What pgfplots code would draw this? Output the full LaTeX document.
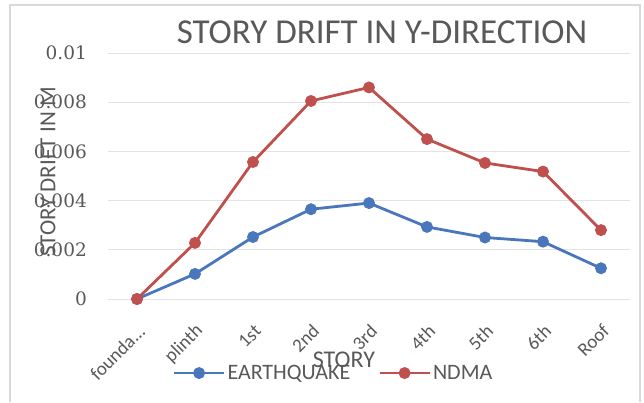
\documentclass[border=0pt]{standalone}
\usepackage{fontspec}
\setmainfont{Carlito}
\newfontfamily\tickserif{DejaVu Serif}
\usepackage{pgfplots}
\pgfplotsset{compat=1.18}

\definecolor{eqblue}{HTML}{4A76BC}
\definecolor{ndmared}{HTML}{C0504D}
\definecolor{txtgray}{HTML}{595959}
\definecolor{gridgray}{HTML}{E3E3E3}
\definecolor{framegray}{HTML}{D9D9D9}

\begin{document}
\begin{tikzpicture}[x=1pt,y=1pt]
\useasboundingbox (0,0) rectangle (644,402);
\fill[white] (0,0) rectangle (644,402);
\draw[framegray, line width=1.2pt] (10,0) -- (10,397) -- (640,397) -- (640,0);
\begin{axis}[
  at={(108pt,103pt)}, anchor=south west,
  scale only axis, width=522pt, height=246pt,
  xmin=-0.5, xmax=8.5, ymin=0, ymax=0.01,
  clip=false,
  axis line style={draw=none},
  major tick length=0pt,
  scaled y ticks=false,
  ymajorgrids, grid style={gridgray, line width=1pt},
  ytick={0,0.002,0.004,0.006,0.008,0.01},
  yticklabels={0,0.002,0.004,0.006,0.008,0.01},
  yticklabel style={font=\tickserif\fontsize{18.5}{22}\selectfont, text=txtgray, anchor=east, inner sep=0pt, xshift=-21pt},
  xtick={0,1,2,3,4,5,6,7,8},
  xticklabels={{founda{.}{.}{.}},plinth,1st,2nd,3rd,4th,5th,6th,Roof},
  xticklabel style={xshift=5pt, yshift=-29pt, font=\fontsize{19}{22}\selectfont, text=txtgray, rotate=45, anchor=east, inner sep=0pt},
  title={STORY DRIFT IN Y-DIRECTION},
  title style={at={(0.525,1.061)}, anchor=center, font=\fontsize{35}{40}\selectfont, text=txtgray},
  xlabel={STORY},
  xlabel style={at={(0.452,-0.248)}, anchor=center, font=\fontsize{24}{28}\selectfont, text=txtgray},
  ylabel={STORY DRIFT IN M},
  ylabel style={at={(-0.115,0.516)}, anchor=center, font=\fontsize{23}{27}\selectfont, text=txtgray},
  legend columns=2,
  legend style={at={(0.432,-0.301)}, anchor=center, draw=none, fill=none,
    font=\fontsize{22}{26}\selectfont, text=txtgray,
    /tikz/every even column/.append style={column sep=26pt}},
  legend image code/.code={
    \draw[mark repeat=2, mark phase=2, #1] plot coordinates {(0pt,0pt) (25pt,0pt) (50pt,0pt)};
  },
  every axis plot/.append style={line width=2.8pt, mark=*, mark size=4.5pt, mark options={solid}},
]
\addplot[eqblue] coordinates {
  (0,0) (1,0.00102) (2,0.00252) (3,0.00365) (4,0.00390) (5,0.00293) (6,0.00250) (7,0.00233) (8,0.00125)
};
\addlegendentry{EARTHQUAKE}
\addplot[ndmared] coordinates {
  (0,0) (1,0.00228) (2,0.00557) (3,0.00805) (4,0.00860) (5,0.00650) (6,0.00553) (7,0.00518) (8,0.00280)
};
\addlegendentry{NDMA}
\end{axis}
\end{tikzpicture}
\end{document}
